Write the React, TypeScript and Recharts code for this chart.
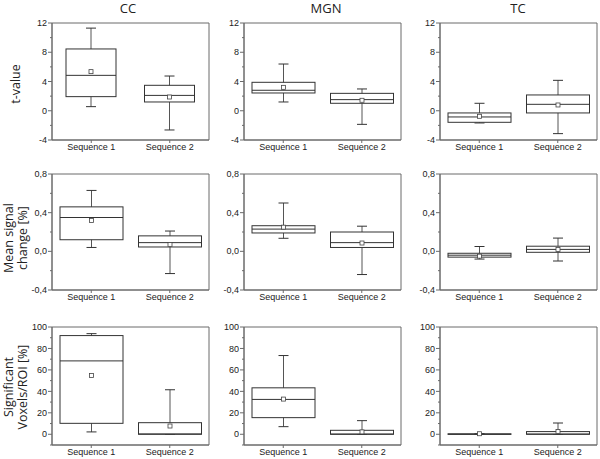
import { Bar, ComposedChart, ReferenceArea, XAxis, YAxis } from "recharts";

const CATEGORIES = ["Sequence 1", "Sequence 2"];
const TITLES = ["CC", "MGN", "TC"];

// one box per sequence: [whisker low, Q1, median, Q3, whisker high, mean]
const T_CC = [[0.56, 1.93, 4.84, 8.45, 11.3, 5.35], [-2.63, 1.2, 2.1, 3.48, 4.75, 1.88]];
const T_MGN = [[1.2, 2.43, 2.8, 3.89, 6.39, 3.2], [-1.86, 1.02, 1.52, 2.38, 2.98, 1.43]];
const T_TC = [[-1.67, -1.58, -0.85, -0.3, 1.02, -0.76], [-3.13, -0.3, 0.88, 2.16, 4.16, 0.79]];

const MSC_CC = [[0.04, 0.12, 0.35, 0.46, 0.63, 0.32], [-0.23, 0.045, 0.09, 0.16, 0.21, 0.07]];
const MSC_MGN = [[0.135, 0.19, 0.23, 0.265, 0.5, 0.25], [-0.24, 0.04, 0.09, 0.2, 0.26, 0.086]];
const MSC_TC = [[-0.08, -0.06, -0.04, -0.02, 0.05, -0.05], [-0.1, -0.01, 0.02, 0.053, 0.137, 0.02]];

const VOX_CC = [[2.2, 10.2, 68.4, 92, 93.8, 54.8], [0, 0, 0.3, 10.8, 41.5, 7.7]];
const VOX_MGN = [[7.1, 15.5, 32.5, 43.3, 73.4, 32.8], [0, 0, 0.2, 3.7, 12.7, 2.2]];
const VOX_TC = [[0, 0, 0.1, 0.4, 0.6, 0.5], [0, 0, 0.2, 2.5, 10.5, 2.5]];

const T_TICKS = [12, 10, 8, 6, 4, 2, 0, -2, -4];
const T_MAJOR = [12, 8, 4, 0, -4];
const MSC_TICKS = [0.8, 0.6, 0.4, 0.2, 0, -0.2, -0.4];
const MSC_MAJOR = [0.8, 0.4, 0, -0.4];
const VOX_TICKS = [100, 90, 80, 70, 60, 50, 40, 30, 20, 10, 0, -10];
const VOX_MAJOR = [100, 80, 60, 40, 20, 0];

const TICK_FONT = "'Liberation Sans', Arial, sans-serif";
const LABEL_FONT = "'Open Sans', sans-serif";
const FRAME = "#6a6a6a";
const INK = "#333";

const PLOT_W = 157;
const Y_AXIS_W = 40;
const TOP_PAD = 8;
const X_AXIS_H = 20;

function BoxShape(props: any) {
  const { x, y, width, height, payload } = props;
  if (!payload) return null;
  const top = Math.min(y, y + height);
  const h = Math.abs(height);
  const { min, q1, median, q3, max, mean } = payload;
  const span = max - min || 1;
  const py = (v: number) => top + ((max - v) / span) * h;
  const cx = x + width / 2;
  const cap = 5;
  return (
    <g>
      <line x1={cx} x2={cx} y1={py(max)} y2={py(min)} stroke="#555" strokeWidth={1} />
      <line x1={cx - cap} x2={cx + cap} y1={py(max)} y2={py(max)} stroke={INK} strokeWidth={1} />
      <line x1={cx - cap} x2={cx + cap} y1={py(min)} y2={py(min)} stroke={INK} strokeWidth={1} />
      <rect
        x={x}
        y={py(q3)}
        width={width}
        height={Math.max(py(q1) - py(q3), 0.5)}
        fill="#fff"
        stroke={INK}
        strokeWidth={1}
      />
      <line x1={x} x2={x + width} y1={py(median)} y2={py(median)} stroke={INK} strokeWidth={1} />
      <rect x={cx - 2} y={py(mean) - 2} width={4} height={4} fill="#fff" stroke="#444" strokeWidth={0.8} />
    </g>
  );
}

function YTick(props: any) {
  const { x, y, payload, major, fmt } = props;
  const isMajor = major.includes(payload.value);
  return (
    <g>
      <line x1={x - (isMajor ? 4 : 2)} x2={x} y1={y} y2={y} stroke={FRAME} strokeWidth={1} />
      {isMajor && (
        <text
          x={x - 5}
          y={y}
          dy="0.35em"
          textAnchor="end"
          fontSize={9}
          fontFamily={TICK_FONT}
          fill="#222"
        >
          {fmt(payload.value)}
        </text>
      )}
    </g>
  );
}

const intFmt = (v: number) => String(v);
const commaFmt = (v: number) => v.toFixed(1).replace(".", ",");

function Panel({
  boxes,
  ticks,
  major,
  fmt,
  plotLeft,
  plotTop,
  plotH,
  barSize = 63,
}: {
  boxes: number[][];
  ticks: number[];
  major: number[];
  fmt: (v: number) => string;
  plotLeft: number;
  plotTop: number;
  plotH: number;
  barSize?: number;
}) {
  const data = CATEGORIES.map((name, i) => {
    const [min, q1, median, q3, max, mean] = boxes[i];
    return { name, min, q1, median, q3, max, mean, range: [min, max] };
  });
  const lo = ticks[ticks.length - 1];
  const hi = ticks[0];
  return (
    <div style={{ position: "absolute", left: plotLeft - Y_AXIS_W, top: plotTop - TOP_PAD }}>
      <ComposedChart
        width={Y_AXIS_W + PLOT_W + 2}
        height={TOP_PAD + plotH + X_AXIS_H}
        data={data}
        margin={{ top: TOP_PAD, right: 2, left: 0, bottom: 0 }}
      >
        <XAxis
          dataKey="name"
          interval={0}
          height={X_AXIS_H}
          stroke={FRAME}
          tickSize={3}
          tickMargin={1}
          tick={{ fontSize: 9, fill: "#222", fontFamily: TICK_FONT }}
        />
        <YAxis
          domain={[lo, hi]}
          ticks={ticks}
          allowDataOverflow
          interval={0}
          width={Y_AXIS_W}
          stroke={FRAME}
          tickLine={false}
          tickSize={0}
          tickMargin={0}
          tick={(p: any) => <YTick {...p} major={major} fmt={fmt} />}
        />
        <ReferenceArea y1={lo} y2={hi} fill="none" stroke={FRAME} strokeWidth={1} ifOverflow="visible" />
        <Bar dataKey="range" barSize={barSize} shape={BoxShape} isAnimationActive={false} />
      </ComposedChart>
    </div>
  );
}

const COL_LEFT = [52, 244, 440];
const TITLE_X = [128, 326, 518];

function AxisLabel({ x, y, lines }: { x: number; y: number; lines: string[] }) {
  return (
    <div
      style={{
        position: "absolute",
        left: x,
        top: y,
        transform: "translate(-50%, -50%) rotate(-90deg)",
        whiteSpace: "nowrap",
        textAlign: "center",
        fontSize: 12.5,
        lineHeight: "14px",
        fontFamily: LABEL_FONT,
        color: "#222",
      }}
    >
      {lines.map((l) => (
        <div key={l}>{l}</div>
      ))}
    </div>
  );
}

export default function App() {
  return (
    <div
      style={{
        position: "absolute",
        left: 0,
        top: 0,
        width: 600,
        height: 459,
        background: "#fff",
        fontFamily: LABEL_FONT,
      }}
    >
      {TITLES.map((t, i) => (
        <div
          key={t}
          style={{
            position: "absolute",
            left: TITLE_X[i],
            top: 8,
            transform: "translate(-50%, -50%)",
            fontSize: 13,
            color: "#222",
          }}
        >
          {t}
        </div>
      ))}

      <AxisLabel x={16} y={84} lines={["t-value"]} />
      <AxisLabel x={16} y={238} lines={["Mean signal", "change [%]"]} />
      <AxisLabel x={16} y={387} lines={["Significant", "Voxels/ROI [%]"]} />

      <Panel boxes={T_CC} ticks={T_TICKS} major={T_MAJOR} fmt={intFmt} plotLeft={COL_LEFT[0]} plotTop={23} plotH={117} barSize={50} />
      <Panel boxes={T_MGN} ticks={T_TICKS} major={T_MAJOR} fmt={intFmt} plotLeft={COL_LEFT[1]} plotTop={23} plotH={117} />
      <Panel boxes={T_TC} ticks={T_TICKS} major={T_MAJOR} fmt={intFmt} plotLeft={COL_LEFT[2]} plotTop={23} plotH={117} />

      <Panel boxes={MSC_CC} ticks={MSC_TICKS} major={MSC_MAJOR} fmt={commaFmt} plotLeft={COL_LEFT[0]} plotTop={174} plotH={116} />
      <Panel boxes={MSC_MGN} ticks={MSC_TICKS} major={MSC_MAJOR} fmt={commaFmt} plotLeft={COL_LEFT[1]} plotTop={174} plotH={116} />
      <Panel boxes={MSC_TC} ticks={MSC_TICKS} major={MSC_MAJOR} fmt={commaFmt} plotLeft={COL_LEFT[2]} plotTop={174} plotH={116} />

      <Panel boxes={VOX_CC} ticks={VOX_TICKS} major={VOX_MAJOR} fmt={intFmt} plotLeft={COL_LEFT[0]} plotTop={327} plotH={118} />
      <Panel boxes={VOX_MGN} ticks={VOX_TICKS} major={VOX_MAJOR} fmt={intFmt} plotLeft={COL_LEFT[1]} plotTop={327} plotH={118} />
      <Panel boxes={VOX_TC} ticks={VOX_TICKS} major={VOX_MAJOR} fmt={intFmt} plotLeft={COL_LEFT[2]} plotTop={327} plotH={118} />
    </div>
  );
}
